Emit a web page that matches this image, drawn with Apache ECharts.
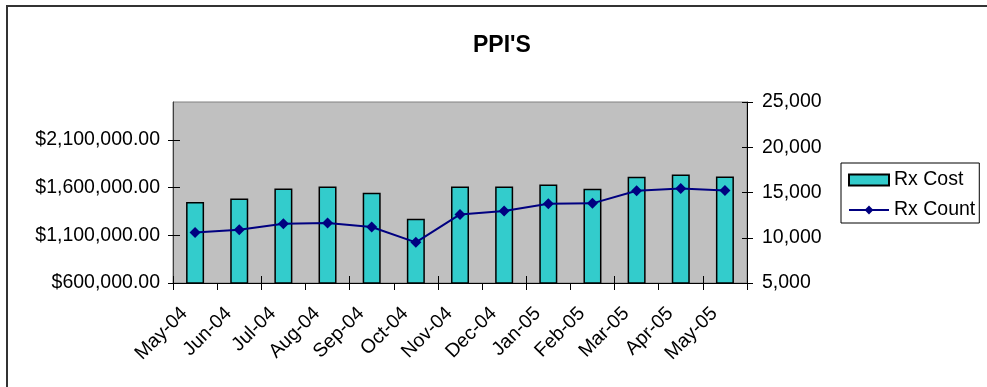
<!DOCTYPE html>
<html>
<head>
<meta charset="utf-8">
<script src="https://cdn.jsdelivr.net/npm/echarts@6/dist/echarts.min.js"></script>
<style>
  html, body { margin: 0; padding: 0; background: #fff; }
  #chart { width: 987px; height: 387px; }
</style>
</head>
<body>
<div id="chart"></div>
<script>
// months on the x axis
const months = ['May-04', 'Jun-04', 'Jul-04', 'Aug-04', 'Sep-04', 'Oct-04', 'Nov-04',
    'Dec-04', 'Jan-05', 'Feb-05', 'Mar-05', 'Apr-05', 'May-05'];

// bars, left axis (dollars)
const rxCost = [1450000, 1488000, 1593000, 1614000, 1548000, 1275000, 1614000,
    1614000, 1635000, 1590000, 1716000, 1740000, 1719000];

// line, right axis (count)
const rxCount = [10590, 10890, 11550, 11630, 11190, 9490, 12580,
    12960, 13760, 13800, 15200, 15450, 15230];

const costTicks = [600000, 1100000, 1600000, 2100000];

const chart = echarts.init(document.getElementById('chart'));

const font = 'Liberation Sans, Arial, sans-serif';

// excel style "cross" ticks: the inner half is drawn by a bare twin axis
function innerTicks(base, len) {
    return Object.assign({}, base, {
        axisLine: { show: false },
        axisLabel: { show: false },
        splitLine: { show: false },
        axisTick: Object.assign({}, base.axisTick, { inside: true, length: len })
    });
}

const xMain = {
    type: 'category',
    position: 'bottom',
    data: months,
    axisLine: { onZero: false, lineStyle: { color: '#000', width: 1 } },
    axisTick: { show: true, length: 7, lineStyle: { color: '#000' } },
    axisLabel: {
        rotate: 45,
        margin: 17,
        padding: [0, 15, 0, 0],
        fontSize: 19.5,
        color: '#000',
        fontFamily: font,
        interval: 0
    }
};

const costAxis = {
    type: 'value',
    position: 'left',
    min: 600000,
    max: 2500000,
    splitLine: { show: false },
    axisLine: { show: true, lineStyle: { color: '#404040' } },
    axisTick: { show: true, length: 5, customValues: costTicks, lineStyle: { color: '#000' } },
    axisLabel: {
        customValues: costTicks,
        fontSize: 19.5,
        color: '#000',
        margin: 13,
        fontFamily: font,
        formatter: v => '$' + v.toLocaleString('en-US', { minimumFractionDigits: 2, maximumFractionDigits: 2 })
    }
};

const countAxis = {
    type: 'value',
    position: 'right',
    min: 5000,
    max: 25000,
    interval: 5000,
    splitLine: { show: false },
    axisLine: { show: true, lineStyle: { color: '#000' } },
    axisTick: { show: true, length: 6, lineStyle: { color: '#000' } },
    axisLabel: {
        fontSize: 19.5,
        color: '#000',
        margin: 15,
        fontFamily: font,
        formatter: v => v.toLocaleString('en-US')
    }
};

const options = {
    animation: false,
    textStyle: { fontFamily: font },
    title: {
        text: "PPI'S",
        left: 468,
        top: 29,
        textStyle: { fontSize: 23, fontWeight: 'bold', color: '#000', fontFamily: font }
    },
    legend: {
        orient: 'vertical',
        left: 841,
        top: 163,
        padding: [7, 4, 3, 7],
        itemGap: 10,
        itemWidth: 40,
        itemHeight: 11,
        borderColor: '#000',
        borderWidth: 1,
        textStyle: { fontSize: 19.5, color: '#000', fontFamily: font },
        data: [{ name: 'Rx Cost', icon: 'rect' }, { name: 'Rx Count' }]
    },
    grid: {
        left: 173,
        right: 240,
        top: 102,
        bottom: 104,
        show: true,
        backgroundColor: '#C0C0C0',
        borderColor: '#808080',
        borderWidth: 1
    },
    graphic: [{
        type: 'rect',
        shape: { x: 7, y: 6, width: 1000, height: 400 },
        style: { fill: 'none', stroke: '#333', lineWidth: 2 },
        silent: true
    }],
    xAxis: [xMain, innerTicks(xMain, 7)],
    yAxis: [costAxis, countAxis, innerTicks(costAxis, 7), innerTicks(countAxis, 5)],
    series: [
        {
            name: 'Rx Cost',
            type: 'bar',
            yAxisIndex: 0,
            barWidth: 18,
            itemStyle: { color: '#33CCCC', borderColor: '#000', borderWidth: 1.5 },
            data: rxCost
        },
        {
            name: 'Rx Count',
            type: 'line',
            yAxisIndex: 1,
            symbol: 'diamond',
            symbolSize: 11,
            lineStyle: { color: '#000080', width: 2 },
            itemStyle: { color: '#000080' },
            data: rxCount
        }
    ]
};

chart.setOption(options);
</script>
</body>
</html>
